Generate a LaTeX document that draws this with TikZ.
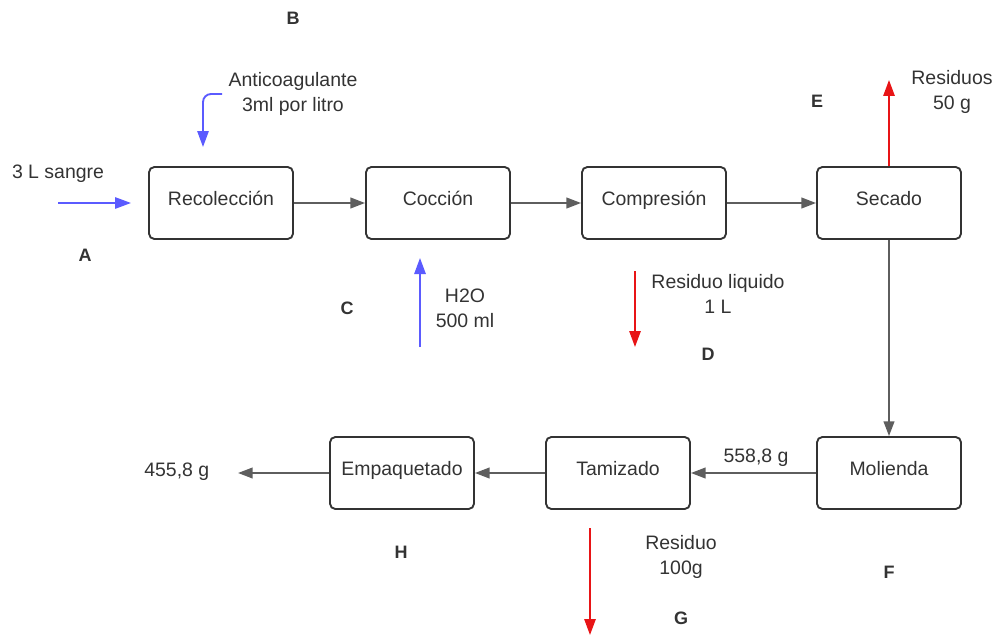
\documentclass[tikz,border=0pt]{standalone}
\usepackage{fontspec}
\setmainfont{Liberation Sans}
\usetikzlibrary{arrows.meta}
\definecolor{ink}{HTML}{333333}
\definecolor{gline}{HTML}{5E5E5E}
\definecolor{bflow}{HTML}{5B5BFF}
\definecolor{rflow}{HTML}{E81416}
\tikzset{
  proc/.style={draw=ink, line width=1.4pt, rounded corners=4pt, minimum width=108pt, minimum height=54pt, text=ink, font=\fontsize{14.6}{17}\selectfont, text height=10pt, text depth=6pt},
  lbl/.style={text=ink, font=\fontsize{14.6}{18.5}\selectfont, align=center},
  letter/.style={text=ink, font=\bfseries\fontsize{13.5}{16}\selectfont},
  flow/.style={gline, line width=1.4pt, -{Triangle[length=11pt,width=8pt]}},
  bluef/.style={bflow, line width=1.4pt, -{Triangle[length=12pt,width=8.5pt]}},
  redf/.style={rflow, line width=1.4pt, -{Triangle[length=12pt,width=8.5pt]}}
}
\begin{document}
\begin{tikzpicture}[x=0.75pt,y=-0.75pt]
\useasboundingbox (0,0) rectangle (1000,635);
% process boxes
\node[proc] (rec) at (221,203) {Recolección};
\node[proc] (coc) at (438,203) {Cocción};
\node[proc] (com) at (654,203) {Compresión};
\node[proc] (sec) at (889,203) {Secado};
\node[proc] (mol) at (889,473) {Molienda};
\node[proc] (tam) at (618,473) {Tamizado};
\node[proc] (emp) at (402,473) {Empaquetado};
% main flow
\draw[flow] (rec) -- (coc);
\draw[flow] (coc) -- (com);
\draw[flow] (com) -- (sec);
\draw[flow] (sec) -- (mol);
\draw[flow] (mol) -- node[lbl, above=1pt, pos=0.48] {558,8 g} (tam);
\draw[flow] (tam) -- (emp);
\coordinate (out) at (238,473);
\draw[flow] (emp) -- (out);
\node[lbl, anchor=east] (outl) at (214,472) {455,8 g};
% A: blood input
\coordinate (a0) at (58,203);
\coordinate (a1) at (131,203);
\draw[bluef] (a0) -- (a1);
\node[lbl] (sangre) at (58,174) {3 L sangre};
\node[letter] (A) at (85,255) {A};
% B: anticoagulant
\coordinate (b0) at (222,94);
\coordinate (b1) at (203,147);
\draw[bluef, rounded corners=6pt] (b0) -| (b1);
\node[lbl] (anti) at (293,94) {Anticoagulante\\3ml por litro};
\node[letter] (B) at (293,18) {B};
% C: water
\coordinate (c0) at (420,347);
\coordinate (c1) at (420,258);
\draw[bluef] (c0) -- (c1);
\node[lbl] (h2o) at (465,308) {H2O\\500 ml};
\node[letter] (C) at (347,308) {C};
% D: liquid residue
\coordinate (d0) at (635,271);
\coordinate (d1) at (635,347);
\draw[redf] (d0) -- (d1);
\node[lbl] (rliq) at (718,294) {Residuo liquido\\1 L};
\node[letter] (D) at (708,354) {D};
% E: residues from drying
\coordinate (e1) at (889,80);
\draw[redf] (sec.north) -- (e1);
\node[lbl] (res) at (952,92) {Residuos\\50 g};
\node[letter] (E) at (817,101) {E};
% F
\node[letter] (F) at (889,572) {F};
% G: sieving residue
\coordinate (g0) at (590,528);
\coordinate (g1) at (590,635);
\draw[redf] (g0) -- (g1);
\node[lbl] (res2) at (681,557) {Residuo\\100g};
\node[letter] (G) at (681,618) {G};
% H
\node[letter] (H) at (401,552) {H};
\end{tikzpicture}
\end{document}
